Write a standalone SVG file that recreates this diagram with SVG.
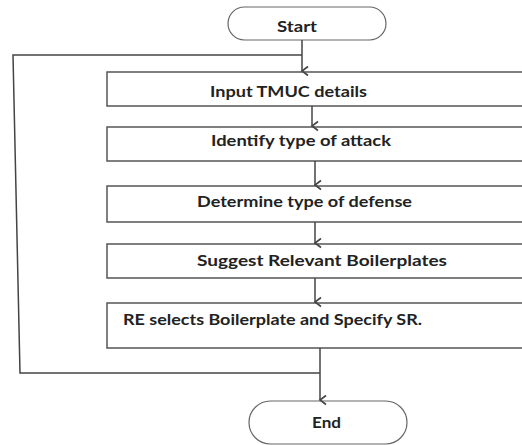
<svg xmlns="http://www.w3.org/2000/svg" width="522" height="445" viewBox="0 0 522 445">
<style>
.box{fill:#fff;stroke:#555;stroke-width:1.5}
.term{fill:#fff;stroke:#666;stroke-width:1.2}
.lbl{font-family:Lato,"Open Sans",sans-serif;font-weight:bold;font-size:14.5px;fill:#222;text-anchor:middle}
.conn{fill:none;stroke:#444;stroke-width:1.5}
</style>
<defs>
<marker id="arr" markerWidth="12" markerHeight="12" refX="6" refY="10" orient="auto" markerUnits="userSpaceOnUse" viewBox="0 0 12 12">
<polyline points="1.5,4 6,10 10.5,4" fill="none" stroke="#444" stroke-width="1.6"/>
</marker>
</defs>
<rect width="522" height="445" fill="#fff"/>
<g id="start"><rect class="term" x="228" y="7" width="158" height="33" rx="16.5"/><text class="lbl" x="297" y="32" textLength="40" lengthAdjust="spacingAndGlyphs">Start</text></g>
<g id="n1"><rect class="box" x="107" y="72" width="420" height="34"/><text class="lbl" x="288.5" y="97" textLength="157" lengthAdjust="spacingAndGlyphs">Input TMUC details</text></g>
<g id="n2"><rect class="box" x="107" y="127" width="420" height="34"/><text class="lbl" x="301" y="146" textLength="180" lengthAdjust="spacingAndGlyphs">Identify type of attack</text></g>
<g id="n3"><rect class="box" x="107" y="186" width="420" height="36"/><text class="lbl" x="304.5" y="207" textLength="215" lengthAdjust="spacingAndGlyphs">Determine type of defense</text></g>
<g id="n4"><rect class="box" x="107" y="244" width="420" height="34"/><text class="lbl" x="322" y="266" textLength="250" lengthAdjust="spacingAndGlyphs">Suggest Relevant Boilerplates</text></g>
<g id="n5"><rect class="box" x="107" y="303" width="420" height="45"/><text class="lbl" x="123" y="325" style="text-anchor:start" textLength="299" lengthAdjust="spacingAndGlyphs">RE selects Boilerplate and Specify SR.</text></g>
<g id="end"><rect class="term" x="249" y="401" width="158" height="43" rx="21.5"/><text class="lbl" x="326.5" y="428" textLength="29" lengthAdjust="spacingAndGlyphs">End</text></g>
<g id="connectors">
<path class="conn" d="M302,40 V71" marker-end="url(#arr)"/>
<path class="conn" d="M320,348 V400" marker-end="url(#arr)"/>
<path class="conn" d="M302,55 H13 L20,373 H320"/>
<path class="conn" d="M312,106 V126" marker-end="url(#arr)"/>
<path class="conn" d="M315,161 V185" marker-end="url(#arr)"/>
<path class="conn" d="M315,222 V243" marker-end="url(#arr)"/>
<path class="conn" d="M315,278 V302" marker-end="url(#arr)"/>
</g>
</svg>
